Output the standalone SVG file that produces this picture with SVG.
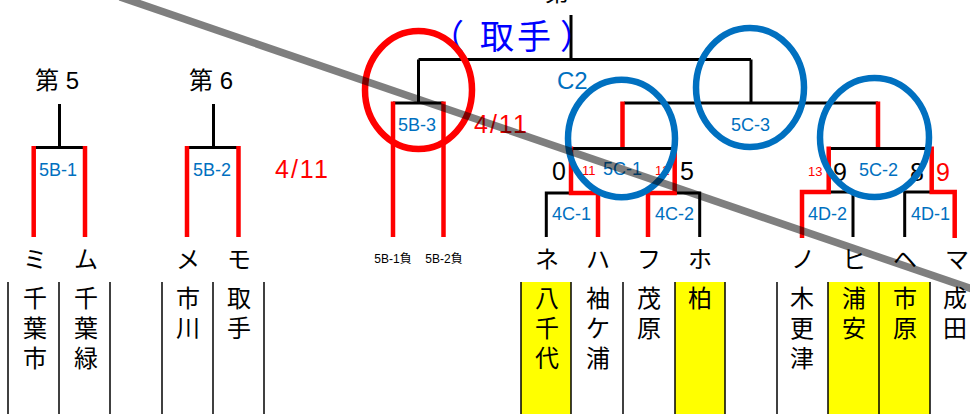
<svg xmlns="http://www.w3.org/2000/svg" width="970" height="414" viewBox="0 0 970 414">
<style>
  .kana{font-family:"Noto Sans CJK JP",sans-serif;font-size:24px;fill:#000;text-anchor:middle;}
  .kanji{font-family:"Noto Sans CJK JP",sans-serif;font-size:24px;fill:#000;text-anchor:middle;}
  .head{font-family:"Liberation Sans","Noto Sans CJK JP",sans-serif;font-size:24px;fill:#000;}
  .lbl{font-family:"Liberation Sans",Arial,sans-serif;font-size:18px;fill:#0070C0;}
  .num{font-family:"Liberation Sans",Arial,sans-serif;font-size:25px;fill:#000;}
  .sm{font-family:"Liberation Sans",Arial,sans-serif;font-size:13px;fill:#FF0000;}
  .date{font-family:"Liberation Sans",Arial,sans-serif;font-size:25px;fill:#FF0000;letter-spacing:2px;}
  .lose{font-family:"Liberation Sans","Noto Sans CJK JP",sans-serif;font-size:12px;fill:#000;text-anchor:middle;}
  .blk{stroke:#000;stroke-width:3;fill:none;}
  .red{stroke:#FF0000;stroke-width:4.5;fill:none;}
  .col{stroke:#000;stroke-width:1.5;}
  .ring{fill:none;stroke:#0070C0;stroke-width:6.5;}
</style>
<rect width="970" height="414" fill="#fff"/>

<g id="columns">
  <rect x="521" y="282" width="50" height="132" fill="#FFFF00"/>
  <rect x="675" y="282" width="50" height="132" fill="#FFFF00"/>
  <rect x="828" y="282" width="102" height="132" fill="#FFFF00"/>
  <g class="col">
    <line x1="8" y1="282" x2="8" y2="414"/>
    <line x1="59" y1="282" x2="59" y2="414"/>
    <line x1="110" y1="282" x2="110" y2="414"/>
    <line x1="162" y1="282" x2="162" y2="414"/>
    <line x1="213" y1="282" x2="213" y2="414"/>
    <line x1="264" y1="282" x2="264" y2="414"/>
    <line x1="521" y1="282" x2="521" y2="414"/>
    <line x1="571" y1="282" x2="571" y2="414"/>
    <line x1="623" y1="282" x2="623" y2="414"/>
    <line x1="675" y1="282" x2="675" y2="414"/>
    <line x1="725" y1="282" x2="725" y2="414"/>
    <line x1="777" y1="282" x2="777" y2="414"/>
    <line x1="828" y1="282" x2="828" y2="414"/>
    <line x1="879" y1="282" x2="879" y2="414"/>
    <line x1="930" y1="282" x2="930" y2="414"/>
  </g>
</g>

<g id="connectors">
  <path class="blk" d="M59.5,104 V147.5 M34,147.5 H85"/>
  <path class="red" d="M33.7,146 V237 M85,146 V237"/>
  <path class="blk" d="M213.5,104 V147.5 M187,147.5 H238.5"/>
  <path class="red" d="M187,146 V237 M238.5,146 V237"/>
  <path class="blk" d="M571,15 V59.5 M418.5,59.5 H751 M418.5,59.5 V103 M393,103 H443.5 M751,59.5 V103 M624,103 H878"/>
  <path class="red" d="M393,101.5 V237 M443.5,101.5 V237"/>
  <path class="red" d="M622.5,101.5 V148.5"/>
  <path class="blk" d="M571,148.5 H675 M546.3,193 H571 M546.3,191.5 V237 M675,193 H699.7 M699.7,191.5 V237"/>
  <path class="red" d="M571,146.5 V193 H598 V237 M674.7,146.5 V193 H648 V237"/>
  <path class="red" d="M878,101.5 V148.5"/>
  <path class="blk" d="M828.7,148.5 H931.7 M828.7,192 H853 M853,190.5 V237 M904.7,192 H931.7 M904.7,190.5 V237"/>
  <path class="red" d="M828.7,146.5 V192 H802 V238 M931.7,146.5 V192 H954.7 V238"/>
</g>

<g id="headings">
  <text x="35" y="89" class="head">第 5</text>
  <text x="189" y="89" class="head">第 6</text>
  <text x="545" y="1" class="head">第</text>
  <text y="49" style="font-family:'Noto Sans CJK JP',sans-serif;font-size:34px;fill:#0000FF"><tspan x="430">（</tspan><tspan x="480">取</tspan><tspan x="517">手</tspan><tspan x="560">）</tspan></text>
  <text x="557" y="89" class="num" style="font-size:24px;fill:#0070C0">C2</text>
  <text x="275" y="178" class="date">4/11</text>
  <text x="474" y="133" class="date">4/11</text>
</g>

<g id="match-labels">
  <text x="39" y="176" class="lbl">5B-1</text>
  <text x="193" y="176" class="lbl">5B-2</text>
  <text x="398" y="131" class="lbl">5B-3</text>
  <text x="731" y="131" class="lbl">5C-3</text>
  <text x="603" y="175" class="lbl">5C-1</text>
  <text x="859" y="176" class="lbl">5C-2</text>
  <text x="552" y="220" class="lbl">4C-1</text>
  <text x="655" y="220" class="lbl">4C-2</text>
  <text x="808" y="220" class="lbl">4D-2</text>
  <text x="911" y="220" class="lbl">4D-1</text>
</g>

<g id="scores">
  <text x="552" y="180" class="num">0</text>
  <text x="582" y="175" class="sm">11</text>
  <text x="655" y="175" class="sm">12</text>
  <text x="680" y="180" class="num">5</text>
  <text x="808" y="176" class="sm">13</text>
  <text x="833" y="181" class="num">9</text>
  <text x="910" y="181" class="num">8</text>
  <text x="936" y="181" class="num" style="fill:#FF0000">9</text>
</g>

<g id="teams">
  <g id="team-mi"><text x="35" y="268" class="kana">ミ</text><text class="kanji"><tspan x="35" y="307">千</tspan><tspan x="35" y="337">葉</tspan><tspan x="35" y="367">市</tspan></text></g>
  <g id="team-mu"><text x="86" y="268" class="kana">ム</text><text class="kanji"><tspan x="86" y="307">千</tspan><tspan x="86" y="337">葉</tspan><tspan x="86" y="367">緑</tspan></text></g>
  <g id="team-me"><text x="188" y="268" class="kana">メ</text><text class="kanji"><tspan x="188" y="307">市</tspan><tspan x="188" y="337">川</tspan></text></g>
  <g id="team-mo"><text x="239" y="268" class="kana">モ</text><text class="kanji"><tspan x="239" y="307">取</tspan><tspan x="239" y="337">手</tspan></text></g>
  <g id="team-5b1"><text x="393" y="263" class="lose">5B-1負</text></g>
  <g id="team-5b2"><text x="444" y="263" class="lose">5B-2負</text></g>
  <g id="team-ne"><text x="547" y="268" class="kana">ネ</text><text class="kanji"><tspan x="547" y="307">八</tspan><tspan x="547" y="337">千</tspan><tspan x="547" y="367">代</tspan></text></g>
  <g id="team-ha"><text x="598" y="268" class="kana">ハ</text><text class="kanji"><tspan x="598" y="307">袖</tspan><tspan x="598" y="337">ケ</tspan><tspan x="598" y="367">浦</tspan></text></g>
  <g id="team-fu"><text x="649" y="268" class="kana">フ</text><text class="kanji"><tspan x="649" y="307">茂</tspan><tspan x="649" y="337">原</tspan></text></g>
  <g id="team-ho"><text x="700" y="268" class="kana">ホ</text><text class="kanji"><tspan x="700" y="307">柏</tspan></text></g>
  <g id="team-no"><text x="803" y="268" class="kana">ノ</text><text class="kanji"><tspan x="802" y="307">木</tspan><tspan x="802" y="337">更</tspan><tspan x="802" y="367">津</tspan></text></g>
  <g id="team-hi"><text x="854" y="268" class="kana">ヒ</text><text class="kanji"><tspan x="854" y="307">浦</tspan><tspan x="854" y="337">安</tspan></text></g>
  <g id="team-he"><text x="905" y="268" class="kana">ヘ</text><text class="kanji"><tspan x="905" y="307">市</tspan><tspan x="905" y="337">原</tspan></text></g>
  <g id="team-ma"><text x="957" y="268" class="kana">マ</text><text class="kanji"><tspan x="955" y="307">成</tspan><tspan x="955" y="337">田</tspan></text></g>
</g>

<g id="marks">
  <ellipse cx="418.5" cy="90" rx="53.5" ry="59" fill="none" stroke="#FF0000" stroke-width="6.5"/>
  <ellipse class="ring" cx="621.5" cy="138.5" rx="53.5" ry="58.7"/>
  <ellipse class="ring" cx="750" cy="87.5" rx="54" ry="59.5"/>
  <ellipse class="ring" cx="874.5" cy="137.5" rx="54.5" ry="59.5"/>
  <line x1="120" y1="-3" x2="975" y2="290" stroke="#000" stroke-opacity="0.5" stroke-width="7.5"/>
</g>
</svg>
